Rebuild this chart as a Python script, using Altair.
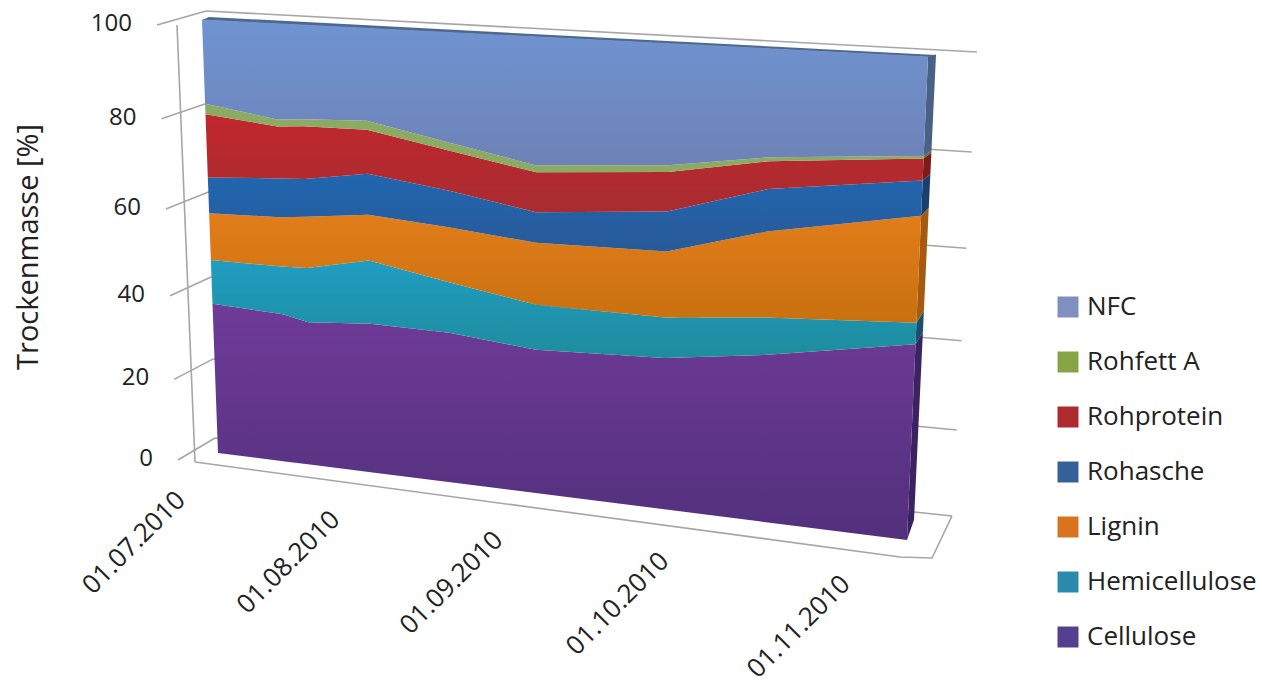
import altair as alt
import pandas as pd

# Sampling dates as days since 01.07.2010, and stacked shares of dry matter in %
dates = ["01.07.2010", "15.07.2010", "20.07.2010", "01.08.2010", "16.08.2010",
         "01.09.2010", "24.09.2010", "11.10.2010", "05.11.2010"]
days = [0, 14, 19, 31, 46, 62, 85, 102, 127]

cellulose = [36.6, 35.8, 34.5, 35.6, 35.4, 33.5, 34.6, 37.4, 42.8]
hemicellulose = [10.3, 11.1, 12.6, 14.5, 11.4, 10.1, 8.9, 8.1, 4.5]
lignin = [10.8, 11.2, 11.6, 10.2, 12.2, 13.6, 14.2, 18.1, 21.9]
rohasche = [8.1, 8.7, 8.4, 9.0, 8.0, 6.6, 8.4, 8.7, 7.0]
rohprotein = [14.0, 11.4, 11.5, 9.5, 8.6, 8.5, 8.2, 5.6, 4.3]
rohfett = [2.3, 1.5, 1.5, 1.9, 1.7, 1.4, 1.4, 0.8, 0.5]
nfc = [18.0, 20.4, 20.0, 19.4, 22.8, 26.4, 24.4, 21.4, 19.1]

# Bottom to top: name, values, gradient top, gradient bottom, side face, legend swatch
series = [
    ("Cellulose", cellulose, "#6f3b98", "#52307c", "#3a2360", "#54408e"),
    ("Hemicellulose", hemicellulose, "#209dc2", "#1e8c9c", "#155070", "#2b8aac"),
    ("Lignin", lignin, "#e27d1a", "#c8700f", "#a65a10", "#d9731e"),
    ("Rohasche", rohasche, "#1f66b0", "#2a5a98", "#1c3f70", "#35609a"),
    ("Rohprotein", rohprotein, "#c0272d", "#a82c30", "#7e1a1c", "#ae2a2e"),
    ("Rohfett A", rohfett, "#8cab62", "#8cab62", "#5c6e2c", "#86a444"),
    ("NFC", nfc, "#6f94d2", "#6e82b6", "#4a6186", "#7f8fbf"),
]

value_ticks = [0, 20, 40, 60, 80, 100]
date_ticks = [("01.07.2010", 0), ("01.08.2010", 31), ("01.09.2010", 62),
              ("01.10.2010", 92), ("01.11.2010", 123)]

LAST_DAY = 127
DEPTH_RATIO = 0.8965  # the right end of the block sits nearer the viewer
TILT_RATIO = 0.91     # the top of the block sits nearer the viewer


def lift(pct):
    """Perspective-corrected height, 0 at the floor and 1 at 100 %."""
    q = pct / 100
    return q * TILT_RATIO / ((1 - q) + q * TILT_RATIO)


def front(day, pct):
    """Project a date and a percentage onto the front face of the 3D block."""
    t = day / LAST_DAY
    u = t * DEPTH_RATIO / ((1 - t) + t * DEPTH_RATIO)
    q = lift(pct)
    bx, by = 218 + 689 * u, 453 + 87 * u
    tx, ty = 202 + 726 * u, 20 + 37 * u
    return bx + (tx - bx) * q, by + (ty - by) * q


def back_edge(pct):
    """Rear corner of the block's right side face at a percentage."""
    q = lift(pct)
    x, y = front(LAST_DAY, pct)
    return x + 7 + q, y - 20 + 18 * q


def axis_front(pct):
    q = lift(pct)
    return 178 - 21 * q, 460 - 435 * q


def wall_left(pct):
    q = lift(pct)
    return 215 - 9 * q, 438 - 427 * q


def wall_right(pct):
    q = lift(pct)
    return 952 + 25 * q, 516 - 464 * q


def stacked():
    lower = [0.0] * len(days)
    for name, values, top, bottom, side, swatch in series:
        upper = [a + b for a, b in zip(lower, values)]
        yield name, lower, upper, top, bottom, side, swatch
        lower = upper


X = alt.X("px:Q", scale=alt.Scale(domain=[0, 1262], nice=False, zero=False), axis=None)
Y = alt.Y("py:Q", scale=alt.Scale(domain=[687, 0], nice=False, zero=False), axis=None)


def polygon(points, fill):
    table = pd.DataFrame(
        [{"px": x, "py": y, "k": i} for i, (x, y) in enumerate(points)]
    )
    return alt.Chart(table).mark_line(fill=fill, strokeWidth=0, strokeOpacity=0, interpolate="linear").encode(
        x=X, y=Y, order=alt.Order("k:Q")
    )


def vertical_gradient(top, bottom):
    return alt.LinearGradient(
        gradient="linear",
        x1=0, y1=0, x2=0, y2=1,
        stops=[alt.GradientStop(color=top, offset=0), alt.GradientStop(color=bottom, offset=1)],
    )


# Wall gridlines, the axis post and the floor outline
segments = []
for p in value_ticks:
    segments.append((f"tick{p}", [axis_front(p), wall_left(p)]))
    segments.append((f"wall{p}", [wall_left(p), wall_right(p)]))
floor_near = (front(0, 0)[0] - 23, front(0, 0)[1] + 9)
floor_far = (front(LAST_DAY, 0)[0] - 7, front(LAST_DAY, 0)[1] + 17)
floor_corner = (front(LAST_DAY, 0)[0] + 25, front(LAST_DAY, 0)[1] + 18)
segments.append(("post", [(177, 25), floor_near]))
segments.append(("floor", [floor_near, floor_far, floor_corner, wall_right(0)]))

grid_rows = []
for name, pts in segments:
    for i, (x, y) in enumerate(pts):
        grid_rows.append({"seg": name, "px": x, "py": y, "k": i})
grid = alt.Chart(pd.DataFrame(grid_rows)).mark_line(color="#a6a6a6", strokeWidth=1.6).encode(
    x=X, y=Y, detail="seg:N", order=alt.Order("k:Q")
)

layers = [grid]

# Top face of the block
tl, tr = front(0, 100), front(LAST_DAY, 100)
layers.append(polygon([tl, tr, back_edge(100), (tl[0] + 7, tl[1] - 3)], "#4f688e"))

# Right side face, one slice per component
for name, lower, upper, top, bottom, side, swatch in stacked():
    pts = [front(LAST_DAY, lower[-1]), back_edge(lower[-1]),
           back_edge(upper[-1]), front(LAST_DAY, upper[-1])]
    layers.append(polygon(pts, side))

# Front face, one band per component
for name, lower, upper, top, bottom, side, swatch in stacked():
    pts = [front(d, v) for d, v in zip(days, upper)]
    pts += [front(d, v) for d, v in reversed(list(zip(days, lower)))]
    layers.append(polygon(pts, vertical_gradient(top, bottom)))

FONT = "Open Sans"
TEXT = "#222222"

# Value axis labels
value_labels = pd.DataFrame(
    [{"px": axis_front(p)[0] - 25, "py": axis_front(p)[1] - 1, "label": str(p)} for p in value_ticks]
)
layers.append(
    alt.Chart(value_labels).mark_text(align="right", baseline="middle", font=FONT, fontSize=24, color=TEXT).encode(
        x=X, y=Y, text="label:N"
    )
)

# Date labels, hanging under the front edge of the floor
date_labels = pd.DataFrame(
    [{"px": front(d, 0)[0] - 37, "py": front(d, 0)[1] + 43, "label": s} for s, d in date_ticks]
)
layers.append(
    alt.Chart(date_labels).mark_text(align="right", baseline="middle", angle=315, font=FONT, fontSize=26, color=TEXT).encode(
        x=X, y=Y, text="label:N"
    )
)

# Value axis title
title = pd.DataFrame([{"px": 29, "py": 247, "label": "Trockenmasse [%]"}])
layers.append(
    alt.Chart(title).mark_text(align="center", baseline="middle", angle=270, font=FONT, fontSize=29, color=TEXT).encode(
        x=X, y=Y, text="label:N"
    )
)

# Legend, top row first
legend_rows = []
for row, (name, lower, upper, top, bottom, side, swatch) in enumerate(reversed(list(stacked()))):
    legend_rows.append({"name": name, "swatch": swatch, "px": 1068, "tx": 1087, "py": 307 + 55 * row})
legend = pd.DataFrame(legend_rows)
layers.append(
    alt.Chart(legend).mark_square(size=440, opacity=1).encode(
        x=X, y=Y, color=alt.Color("swatch:N", scale=None)
    )
)
layers.append(
    alt.Chart(legend).mark_text(align="left", baseline="middle", font=FONT, fontSize=26, color=TEXT).encode(
        x=alt.X("tx:Q", scale=alt.Scale(domain=[0, 1262], nice=False, zero=False), axis=None),
        y=Y,
        text="name:N",
    )
)

chart = (
    alt.layer(*layers)
    .properties(width=1262, height=687, padding=0, autosize=alt.AutoSizeParams(type="none"), background="white")
    .configure_view(stroke=None)
)

chart.save("out.html", embed_options={"renderer": "svg", "actions": False})
